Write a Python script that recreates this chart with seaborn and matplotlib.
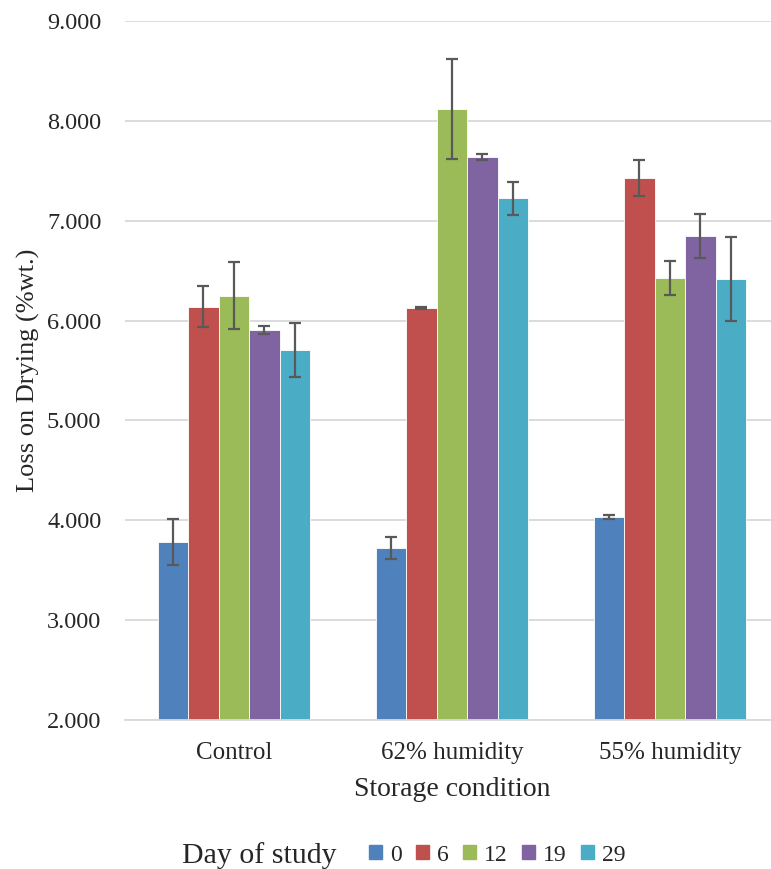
import pandas as pd
import matplotlib
matplotlib.use("Agg")
import matplotlib.pyplot as plt
import matplotlib.patches as mpatches
import seaborn as sns

# Data
conditions = ["Control", "62% humidity", "55% humidity"]
days = ["0", "6", "12", "19", "29"]

day0 = [3.78, 3.72, 4.03]
day6 = [6.14, 6.125, 7.43]
day12 = [6.25, 8.12, 6.43]
day19 = [5.91, 7.64, 6.85]
day29 = [5.705, 7.225, 6.42]

err0 = [0.23, 0.11, 0.02]
err6 = [0.205, 0.01, 0.18]
err12 = [0.335, 0.50, 0.17]
err19 = [0.04, 0.03, 0.22]
err29 = [0.27, 0.165, 0.42]

colors = ["#4F81BD", "#C0504D", "#9BBB59", "#8064A2", "#4BACC6"]

values = [day0, day6, day12, day19, day29]
errors = [err0, err6, err12, err19, err29]

rows = []
for d, vals in zip(days, values):
    for c, v in zip(conditions, vals):
        rows.append({"condition": c, "day": d, "lod": v})
df = pd.DataFrame(rows)

sns.set_style("white")
plt.rcParams["font.family"] = ["Liberation Serif", "DejaVu Serif"]

fig = plt.figure(figsize=(7.71, 8.69), dpi=100)
ax = fig.add_axes([0.1621, 0.1715, 0.848, 0.8043])

sns.barplot(data=df, x="condition", y="lod", hue="day", order=conditions,
            hue_order=days, palette=colors, width=0.7, saturation=1,
            errorbar=None, legend=False, edgecolor="white", linewidth=0.6,
            ax=ax)

# error bars placed on the bars seaborn drew
for cont, errs in zip(ax.containers, errors):
    xs = [b.get_x() + b.get_width() / 2 for b in cont]
    ys = [b.get_height() for b in cont]
    ax.errorbar(xs, ys, yerr=errs, fmt="none", ecolor="#595959",
                elinewidth=1.6, capsize=4.5, capthick=1.6, zorder=5)

ax.set_ylim(2, 9)
ax.set_xlim(-0.5, 2.5)
ax.set_yticks([2, 3, 4, 5, 6, 7, 8, 9])
ax.set_yticklabels([f"{t:.3f}" for t in [2, 3, 4, 5, 6, 7, 8, 9]])
ax.yaxis.grid(True, color="#d9d9d9", linewidth=1.3)
ax.set_axisbelow(True)
for s in ["top", "right", "left"]:
    ax.spines[s].set_visible(False)
ax.spines["bottom"].set_color("#d9d9d9")
ax.spines["bottom"].set_linewidth(1.3)
ax.tick_params(axis="y", length=0, pad=17, labelsize=17.5, labelcolor="#262626")
ax.tick_params(axis="x", length=0, pad=16, labelsize=18, labelcolor="#262626")

ax.set_ylabel("Loss on Drying (%wt.)", fontsize=19, labelpad=5)
ax.set_xlabel("Storage condition", fontsize=20, labelpad=9)

# legend with its title on the left
handles = [mpatches.Patch(color=c, label=d) for c, d in zip(colors, days)]
fig.legend(handles=handles, loc="center left", bbox_to_anchor=(0.478, 0.016),
           ncol=5, frameon=False, fontsize=17, handlelength=0.55,
           handleheight=0.55, handletextpad=0.35, columnspacing=0.6,
           borderpad=0, borderaxespad=0)
fig.text(0.236, 0.016, "Day of study", fontsize=21.5, ha="left", va="center")

fig.savefig("out.png", dpi=100)
